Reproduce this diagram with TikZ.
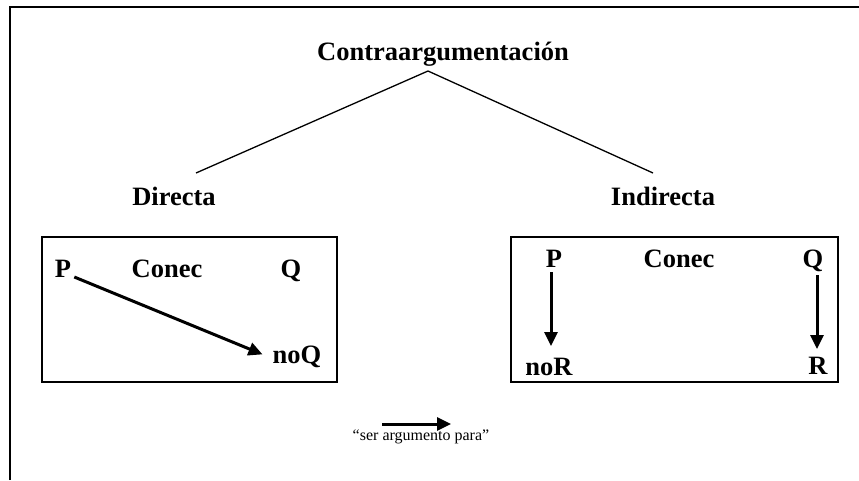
\documentclass[tikz,border=0pt]{standalone}
\usepackage{fontspec}
\setmainfont{Liberation Serif}
\usetikzlibrary{arrows.meta,calc}
\begin{document}
\begin{tikzpicture}[x=1pt,y=-1pt,
  lbl/.style={font=\fontsize{26.5}{30}\selectfont\bfseries, inner sep=2pt, anchor=base},
  sym/.style={font=\fontsize{26.5}{30}\selectfont\bfseries, inner sep=2pt, anchor=base},
  legend/.style={font=\fontsize{16}{18}\selectfont, inner sep=1pt, anchor=base},
  boxst/.style={draw, line width=1.5pt},
  tree/.style={line width=1.3pt},
  arg/.style={line width=3pt, -{Triangle[length=14pt,width=13pt]}}]
\useasboundingbox (0,0) rectangle (859,480);
% outer frame (only top and left visible)
\draw[line width=1.5pt] (10,480) -- (10,7) -- (859,7);
% title and branches
\node[lbl] (title) at (443,60) {Contraargumentación};
\node[lbl] (dir) at (174,205) {Directa};
\node[lbl] (ind) at (663,205) {Indirecta};
\coordinate (apex) at (428,71);
\coordinate (dend) at (196,173);
\coordinate (iend) at (653,173);
\draw[tree] (dend) -- (apex) -- (iend);
% left box
\node[boxst, minimum width=295pt, minimum height=145pt] (lbox) at (189.5,309.5) {};
\node[sym] (p1) at (63,277) {P};
\node[sym] (c1) at (167,277) {Conec};
\node[sym] (q1) at (291,277) {Q};
\node[sym] (nq) at (297,363) {noQ};
\draw[arg] ($(p1.base east)+(1,0)$) -- ($(nq.west)+(-8,-2)$);
% right box
\node[boxst, minimum width=327pt, minimum height=145pt] (rbox) at (674.5,309.5) {};
\node[sym] (p2) at (554,267) {P};
\node[sym] (c2) at (679,267) {Conec};
\node[sym] (q2) at (813,267) {Q};
\node[sym] (nr) at (549,375) {noR};
\node[sym] (r2) at (818,374) {R};
\coordinate (pa) at (551,272);
\coordinate (pb) at (551,346);
\coordinate (qa) at (817,275);
\coordinate (qb) at (817,349);
\draw[arg] (pa) -- (pb);
\draw[arg] (qa) -- (qb);
% legend
\coordinate (la) at (382,424);
\coordinate (lb) at (451,424);
\draw[arg] (la) -- (lb);
\node[legend] (lt) at (421,440) {“ser argumento para”};
\end{tikzpicture}
\end{document}
